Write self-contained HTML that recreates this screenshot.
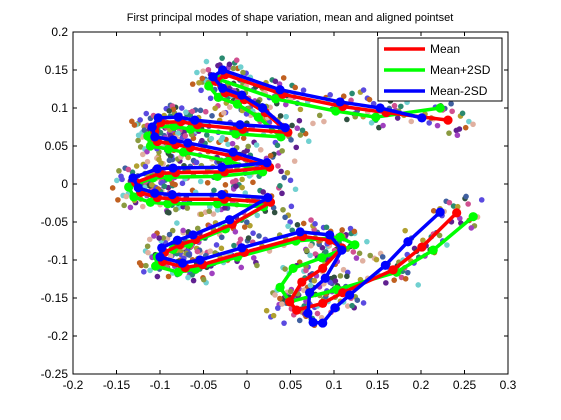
<!DOCTYPE html>
<html><head><meta charset="utf-8"><style>
body{margin:0;background:#fff}
svg{display:block;font-family:"Liberation Sans",sans-serif}
</style></head><body>
<svg id="chart" width="561" height="420">
<text x="290" y="21" font-size="11" text-anchor="middle">First principal modes of shape variation, mean and aligned pointset</text>
<g id="plot"></g>
<g id="axes"></g>
<g id="legend"></g>
</svg>
<script>
const xTicks=[-0.2,-0.15,-0.1,-0.05,0,0.05,0.1,0.15,0.2,0.25,0.3];
const xTickLabels=["-0.2","-0.15","-0.1","-0.05","0","0.05","0.1","0.15","0.2","0.25","0.3"];
const yTicks=[0.2,0.15,0.1,0.05,0,-0.05,-0.1,-0.15,-0.2,-0.25];
const yTickLabels=["0.2","0.15","0.1","0.05","0","-0.05","-0.1","-0.15","-0.2","-0.25"];
const blueX=[0.201,0.153,0.107,0.038,-0.028,-0.039,-0.028,-0.006,0.018,0.044,-0.008,-0.060,-0.079,-0.102,-0.109,-0.106,-0.085,-0.068,-0.016,0.023,-0.029,-0.085,-0.103,-0.131,-0.125,-0.106,-0.086,-0.029,0.024,-0.020,-0.062,-0.080,-0.098,-0.100,-0.074,-0.054,-0.006,0.061,0.095,0.109,0.090,0.072,0.070,0.076,0.087,0.101,0.118,0.159,0.185,0.222];
const blueY=[0.087,0.100,0.108,0.124,0.150,0.141,0.126,0.117,0.100,0.074,0.078,0.084,0.088,0.087,0.075,0.062,0.058,0.054,0.042,0.028,0.022,0.021,0.020,0.008,-0.005,-0.012,-0.014,-0.014,-0.018,-0.047,-0.067,-0.074,-0.084,-0.096,-0.104,-0.100,-0.084,-0.063,-0.067,-0.087,-0.124,-0.143,-0.170,-0.182,-0.183,-0.163,-0.146,-0.107,-0.076,-0.037];
const redX=[0.231,0.160,0.110,0.041,-0.025,-0.036,-0.025,-0.003,0.021,0.047,-0.005,-0.057,-0.076,-0.099,-0.106,-0.103,-0.082,-0.065,-0.013,0.026,-0.026,-0.082,-0.100,-0.128,-0.122,-0.103,-0.083,-0.026,0.027,-0.017,-0.059,-0.077,-0.095,-0.097,-0.071,-0.051,-0.003,0.064,0.095,0.109,0.087,0.063,0.049,0.057,0.087,0.110,0.168,0.201,0.241];
const redY=[0.084,0.094,0.102,0.118,0.144,0.135,0.120,0.111,0.094,0.068,0.072,0.078,0.082,0.081,0.069,0.056,0.052,0.048,0.036,0.022,0.016,0.015,0.014,0.002,-0.011,-0.018,-0.020,-0.020,-0.024,-0.053,-0.073,-0.080,-0.090,-0.102,-0.110,-0.106,-0.090,-0.069,-0.074,-0.084,-0.111,-0.129,-0.155,-0.166,-0.157,-0.143,-0.113,-0.083,-0.038];
const greenX=[0.222,0.148,0.102,0.033,-0.033,-0.044,-0.033,-0.011,0.013,0.039,-0.013,-0.065,-0.084,-0.107,-0.114,-0.111,-0.090,-0.073,-0.021,0.018,-0.034,-0.090,-0.108,-0.136,-0.130,-0.111,-0.091,-0.034,0.019,-0.025,-0.067,-0.085,-0.103,-0.105,-0.079,-0.059,-0.011,0.056,0.107,0.124,0.086,0.053,0.038,0.049,0.103,0.172,0.214,0.260];
const greenY=[0.100,0.088,0.096,0.112,0.138,0.129,0.114,0.105,0.088,0.062,0.066,0.072,0.076,0.075,0.063,0.050,0.046,0.042,0.030,0.016,0.010,0.009,0.008,-0.004,-0.017,-0.024,-0.026,-0.026,-0.030,-0.059,-0.079,-0.086,-0.096,-0.108,-0.116,-0.112,-0.096,-0.075,-0.070,-0.080,-0.097,-0.111,-0.136,-0.155,-0.139,-0.116,-0.087,-0.043];
const jitterX=[0.012,-0.010,0.004,-0.014,0.017,-0.003,0.008,-0.018,0.001,0.014,-0.007,0.020,-0.022,0.009,-0.005,0.024,-0.016,0.003,0.011,-0.012];
const jitterY=[0.006,-0.008,0.013,0.002,-0.011,0.017,-0.015,-0.004,-0.019,0.010,0.021,-0.002,0.009,-0.022,0.015,-0.006,0.003,0.024,-0.013,0.019];
const dotColors=["#b0a030","#5a4ae0","#d05090","#2a8a70","#c06020","#70d0d0","#602090","#a040c0","#8a9a40","#e0b0a0","#305040","#4060a0"];

const X0=73,X1=508,Y0=32,Y1=374;
const sx=v=>X0+(v-(-0.2))/(0.5)*(X1-X0);
const sy=v=>Y0+(0.2-v)/(0.45)*(Y1-Y0);
const NS="http://www.w3.org/2000/svg";
function mk(tag,attrs,parent){const e=document.createElementNS(NS,tag);for(const k in attrs)e.setAttribute(k,attrs[k]);parent.appendChild(e);return e;}
const plot=document.getElementById('plot'),axes=document.getElementById('axes'),legend=document.getElementById('legend');

for(let i=0;i<redX.length;i++){for(let j=0;j<jitterX.length;j++){
  const k=(i*7+j)%jitterX.length;
  const c=mk('circle',{cx:sx(redX[i]+jitterX[k]*1.2),cy:sy(redY[i]+jitterY[(k+i*3)%jitterY.length]*0.9),r:2.8,fill:dotColors[(i+j*7)%dotColors.length]},plot);
  
  
}}
function series(xs,ys,color,name){
  const pts=xs.map((v,i)=>sx(v)+','+sy(ys[i])).join(' ');
  const l=mk('polyline',{points:pts,fill:'none',stroke:color,'stroke-width':3.5,'stroke-linejoin':'round'},plot);
  
  
  xs.forEach((v,i)=>{const c=mk('circle',{cx:sx(v),cy:sy(ys[i]),r:4.6,fill:color},plot);
    
    });
}
series(greenX,greenY,'#00ff00','mean-plus-2sd');
series(redX,redY,'#ff0000','mean');
series(blueX,blueY,'#0000ff','mean-minus-2sd');

const box=mk('rect',{x:X0,y:Y0,width:X1-X0,height:Y1-Y0,fill:'none',stroke:'#000','stroke-width':1},axes);


xTicks.forEach((v,i)=>{const x=sx(v);
  mk('line',{x1:x,x2:x,y1:Y1,y2:Y1-4,stroke:'#000'},axes);mk('line',{x1:x,x2:x,y1:Y0,y2:Y0+4,stroke:'#000'},axes);
  const t=mk('text',{x:x,y:Y1+15,'font-size':12,'text-anchor':'middle'},axes);t.textContent=xTickLabels[i];
  
  });
yTicks.forEach((v,i)=>{const y=sy(v);
  mk('line',{x1:X0,x2:X0+4,y1:y,y2:y,stroke:'#000'},axes);mk('line',{x1:X1,x2:X1-4,y1:y,y2:y,stroke:'#000'},axes);
  const t=mk('text',{x:X0-5,y:y+4,'font-size':12,'text-anchor':'end'},axes);t.textContent=yTickLabels[i];
  
  });

const lb=mk('rect',{x:378,y:38,width:124,height:63,fill:'#fff',stroke:'#000'},legend);


[['Mean','#ff0000'],['Mean+2SD','#00ff00'],['Mean-2SD','#0000ff']].forEach((e,i)=>{const y=49+i*21;
  const l=mk('line',{x1:384,x2:425,y1:y,y2:y,stroke:e[1],'stroke-width':3.5},legend);
  
  
  const t=mk('text',{x:430,y:y+4,'font-size':12},legend);t.textContent=e[0];
  
  });
</script>
</body></html>
